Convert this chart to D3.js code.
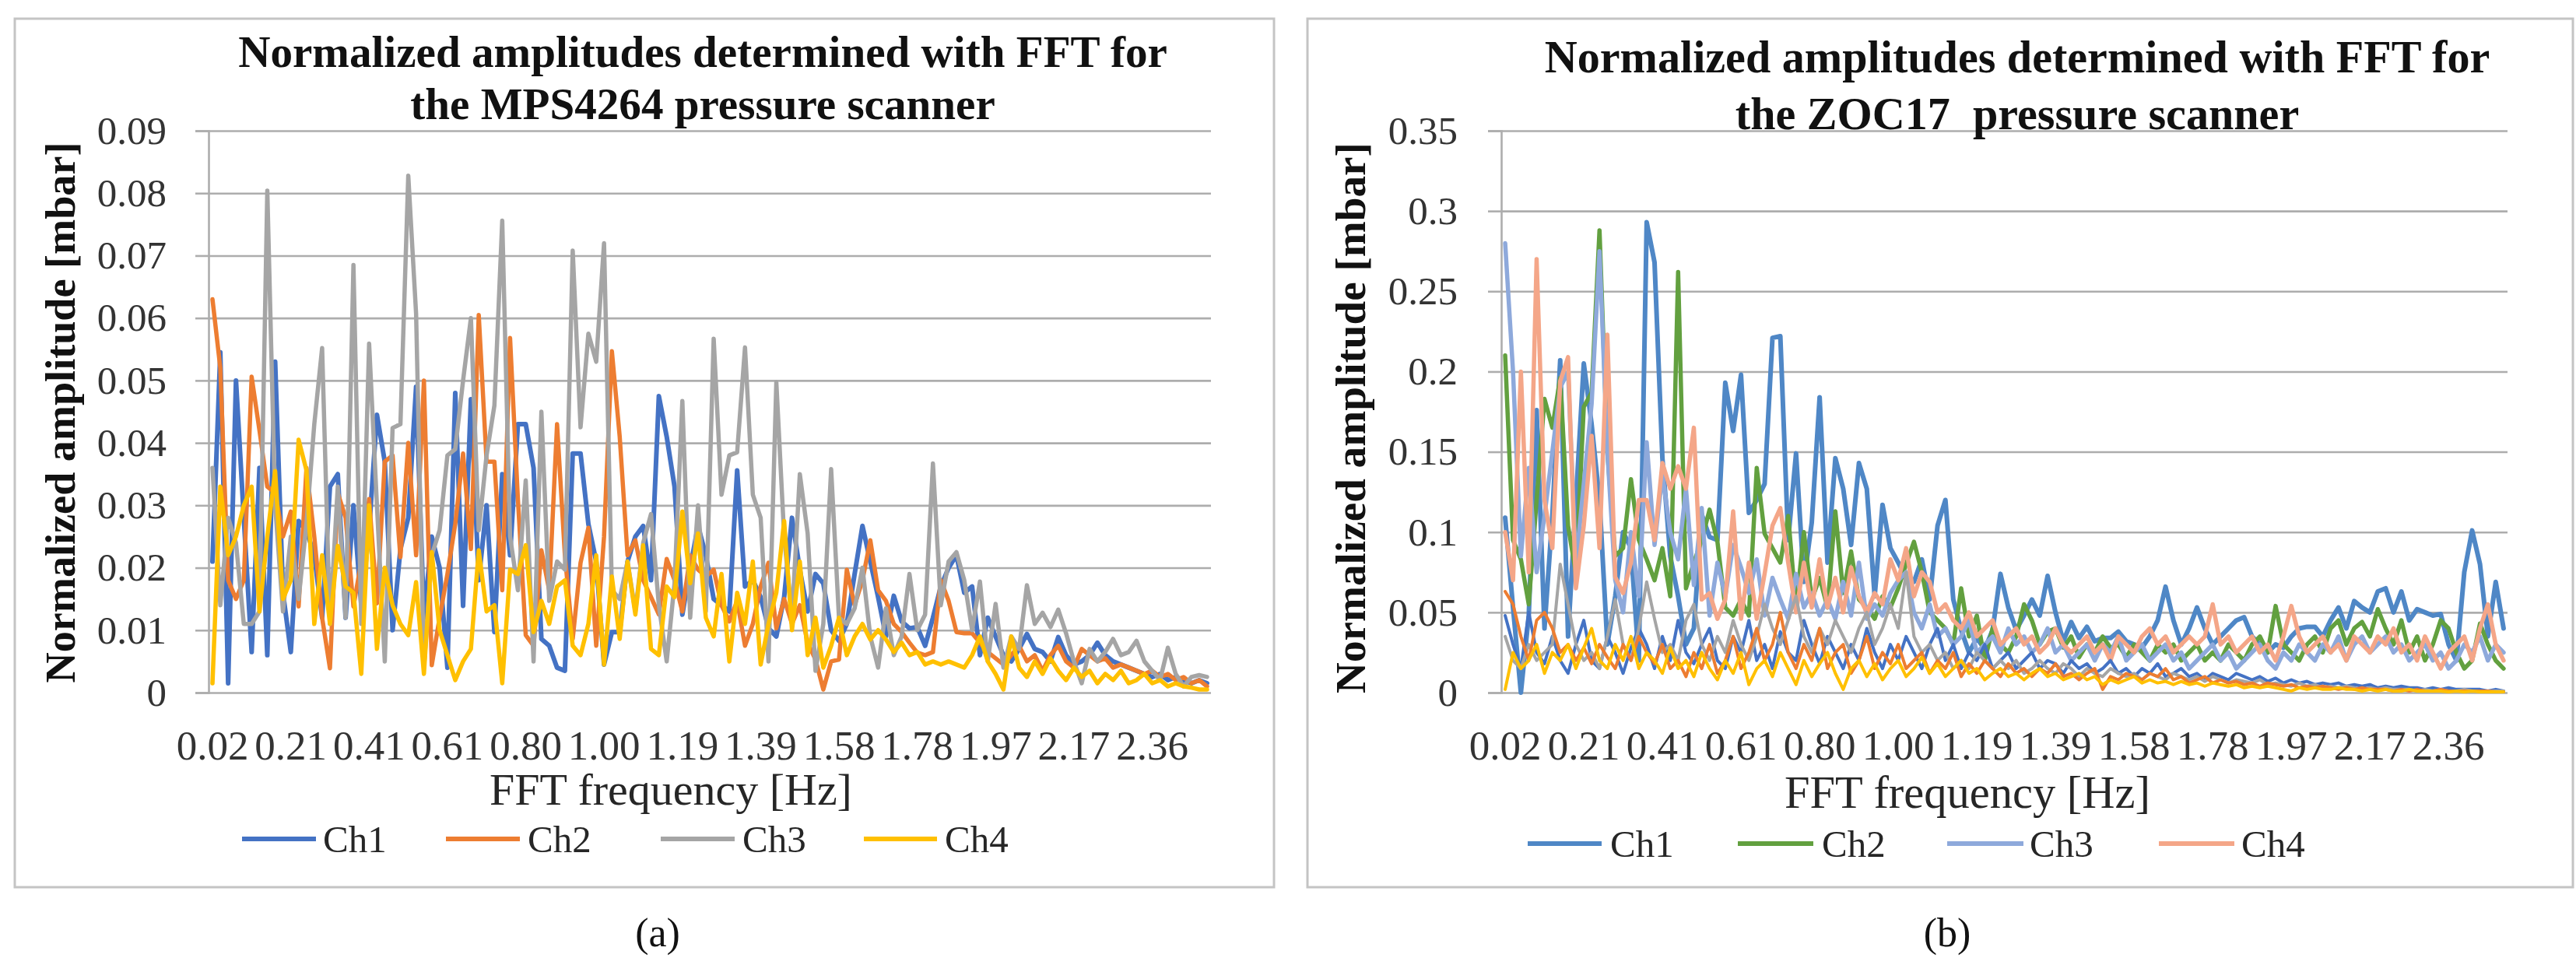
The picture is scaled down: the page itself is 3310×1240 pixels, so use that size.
<!DOCTYPE html>
<html><head><meta charset="utf-8">
<script src="https://cdn.jsdelivr.net/npm/d3@7"></script>
<style>body{margin:0;background:#fff}svg{display:block}</style>
</head><body>
<svg id="c" width="3310" height="1240"></svg>
<script>
// ---------- DATA ----------
const xTickLabels = ["0.02","0.21","0.41","0.61","0.80","1.00","1.19","1.39","1.58","1.78","1.97","2.17","2.36"];
const pointCount = 128;
const leftYTicks = [0,0.01,0.02,0.03,0.04,0.05,0.06,0.07,0.08,0.09];
const leftYLabels = ["0","0.01","0.02","0.03","0.04","0.05","0.06","0.07","0.08","0.09"];
const rightYTicks = [0,0.05,0.1,0.15,0.2,0.25,0.3,0.35];
const rightYLabels = ["0","0.05","0.1","0.15","0.2","0.25","0.3","0.35"];
const seriesNames = ["Ch1","Ch2","Ch3","Ch4"];

const mpsCh1 = [0.021,0.0545,0.0015,0.050,0.028,0.0065,0.036,0.006,0.053,0.016,
 0.0065,0.0275,0.026,0.022,0.012,0.033,0.035,0.012,0.030,0.014,
 0.026,0.0445,0.037,0.010,0.023,0.028,0.049,0.012,0.025,0.020,
 0.004,0.048,0.0139,0.047,0.018,0.030,0.0097,0.035,0.022,0.043,
 0.043,0.036,0.0086,0.0075,0.004,0.0035,0.0383,0.0383,0.027,0.021,
 0.0045,0.0097,0.0097,0.021,0.025,0.0267,0.018,0.0475,0.041,0.033,
 0.0125,0.02,0.0267,0.022,0.015,0.014,0.013,0.0356,0.017,0.018,
 0.0153,0.0103,0.009,0.0153,0.028,0.0197,0.013,0.019,0.0175,0.01,
 0.0083,0.011,0.019,0.0267,0.021,0.0153,0.009,0.0155,0.0114,0.0103,
 0.0105,0.0075,0.012,0.017,0.02,0.022,0.016,0.017,0.006,0.012,
 0.009,0.006,0.005,0.007,0.0094,0.007,0.0065,0.005,0.0089,0.006,
 0.0045,0.005,0.006,0.008,0.006,0.005,0.0045,0.004,0.0035,0.003,
 0.0025,0.003,0.002,0.0025,0.002,0.0015,0.002,0.0015];
const mpsCh2 = [0.063,0.052,0.018,0.015,0.018,0.0506,0.042,0.033,0.032,0.025,
 0.029,0.0138,0.036,0.025,0.012,0.0039,0.032,0.028,0.0138,0.021,
 0.031,0.0143,0.037,0.038,0.0217,0.040,0.022,0.050,0.0044,0.012,
 0.019,0.027,0.0383,0.023,0.0605,0.037,0.037,0.0164,0.0568,0.031,
 0.0092,0.0075,0.0228,0.0164,0.043,0.022,0.0086,0.0208,0.0264,0.0075,
 0.025,0.0547,0.041,0.022,0.0244,0.018,0.0153,0.0125,0.0214,0.018,
 0.013,0.022,0.0197,0.0186,0.0197,0.014,0.0114,0.0147,0.0075,0.011,
 0.017,0.0208,0.0103,0.015,0.011,0.014,0.008,0.0053,0.0005,0.005,
 0.0053,0.0197,0.014,0.018,0.0244,0.0164,0.0147,0.011,0.0097,0.008,
 0.0064,0.006,0.0065,0.018,0.0147,0.0097,0.0095,0.0095,0.008,0.0065,
 0.0055,0.0045,0.006,0.0075,0.005,0.006,0.0035,0.006,0.0075,0.005,
 0.004,0.007,0.006,0.005,0.0055,0.004,0.0045,0.004,0.0035,0.003,
 0.0035,0.0025,0.003,0.002,0.0025,0.0015,0.002,0.001];
const mpsCh3 = [0.036,0.014,0.028,0.024,0.011,0.011,0.013,0.0804,0.030,0.013,
 0.025,0.015,0.027,0.043,0.0552,0.011,0.033,0.012,0.0685,0.011,
 0.0559,0.030,0.005,0.0424,0.043,0.0828,0.0607,0.004,0.022,0.026,
 0.038,0.039,0.050,0.060,0.026,0.038,0.046,0.0756,0.025,0.0164,
 0.034,0.005,0.045,0.0147,0.021,0.0197,0.0708,0.0425,0.0575,0.053,
 0.072,0.0164,0.015,0.021,0.013,0.024,0.0286,0.014,0.005,0.0175,
 0.0467,0.012,0.03,0.013,0.0567,0.0317,0.038,0.0385,0.0553,0.0317,
 0.028,0.005,0.0497,0.025,0.012,0.035,0.0255,0.0035,0.011,0.0358,
 0.012,0.011,0.0135,0.02,0.009,0.004,0.0135,0.006,0.009,0.019,
 0.010,0.0125,0.0367,0.014,0.021,0.0225,0.018,0.010,0.0178,0.005,
 0.0142,0.004,0.009,0.007,0.0172,0.011,0.0128,0.0105,0.0133,0.0095,
 0.005,0.0015,0.007,0.005,0.0065,0.0086,0.006,0.0065,0.0083,0.005,
 0.0035,0.002,0.0072,0.003,0.001,0.0025,0.0028,0.0025];
const mpsCh4 = [0.0015,0.033,0.022,0.025,0.030,0.033,0.013,0.025,0.0355,0.015,
 0.018,0.0405,0.0356,0.011,0.022,0.011,0.0235,0.017,0.016,0.003,
 0.030,0.007,0.020,0.014,0.011,0.0092,0.0177,0.003,0.0225,0.010,
 0.006,0.002,0.005,0.007,0.0228,0.013,0.014,0.0015,0.0197,0.019,
 0.0236,0.0097,0.0147,0.011,0.017,0.018,0.0075,0.006,0.011,0.022,
 0.0045,0.0186,0.0086,0.021,0.0125,0.0236,0.007,0.006,0.017,0.0153,
 0.029,0.0175,0.0255,0.012,0.009,0.019,0.005,0.016,0.011,0.021,
 0.0045,0.011,0.016,0.0275,0.01,0.021,0.006,0.012,0.004,0.0075,
 0.012,0.006,0.009,0.011,0.0085,0.01,0.0085,0.0065,0.008,0.006,
 0.0065,0.0045,0.005,0.0045,0.005,0.0045,0.004,0.006,0.009,0.005,
 0.003,0.0005,0.009,0.004,0.0025,0.005,0.003,0.0055,0.0035,0.002,
 0.004,0.0025,0.0035,0.0015,0.003,0.002,0.0035,0.0015,0.002,0.003,
 0.0015,0.002,0.001,0.0015,0.001,0.0008,0.0005,0.0005];

const zocCh1 = [0.109,0.053,0.0,0.048,0.176,0.04,0.11,0.207,0.035,0.12,
 0.205,0.167,0.12,0.03,0.06,0.1,0.09,0.02,0.293,0.268,
 0.146,0.085,0.06,0.03,0.04,0.111,0.097,0.095,0.193,0.163,
 0.198,0.112,0.12,0.13,0.221,0.222,0.095,0.149,0.069,0.106,
 0.184,0.081,0.146,0.127,0.092,0.143,0.127,0.06,0.117,0.09,
 0.081,0.0715,0.069,0.083,0.058,0.104,0.12,0.058,0.039,0.025,
 0.034,0.027,0.039,0.074,0.053,0.039,0.048,0.058,0.048,0.0727,
 0.05,0.032,0.044,0.034,0.041,0.032,0.034,0.034,0.038,0.032,
 0.03,0.028,0.035,0.045,0.066,0.045,0.03,0.04,0.053,0.04,
 0.03,0.035,0.04,0.045,0.047,0.035,0.03,0.025,0.03,0.028,
 0.035,0.04,0.041,0.041,0.035,0.045,0.053,0.04,0.057,0.053,
 0.05,0.063,0.065,0.05,0.063,0.045,0.052,0.05,0.048,0.049,
 0.03,0.02,0.075,0.101,0.08,0.035,0.069,0.04];
const zocCh2 = [0.21,0.095,0.083,0.055,0.12,0.183,0.165,0.196,0.104,0.074,
 0.178,0.187,0.288,0.15,0.085,0.09,0.133,0.095,0.083,0.07,
 0.09,0.06,0.262,0.065,0.081,0.095,0.114,0.094,0.053,0.048,
 0.058,0.048,0.14,0.099,0.09,0.081,0.11,0.053,0.1,0.058,
 0.0715,0.053,0.113,0.062,0.088,0.058,0.053,0.046,0.06,0.053,
 0.065,0.08,0.094,0.075,0.05,0.045,0.04,0.03,0.065,0.035,
 0.048,0.02,0.04,0.03,0.025,0.035,0.055,0.045,0.03,0.038,
 0.04,0.028,0.035,0.022,0.03,0.025,0.035,0.028,0.03,0.022,
 0.03,0.025,0.02,0.03,0.025,0.03,0.02,0.025,0.03,0.02,
 0.025,0.02,0.03,0.025,0.02,0.03,0.035,0.025,0.054,0.03,
 0.025,0.02,0.03,0.035,0.025,0.04,0.045,0.03,0.04,0.044,
 0.035,0.052,0.04,0.03,0.045,0.025,0.035,0.02,0.03,0.045,
 0.04,0.025,0.015,0.02,0.043,0.03,0.02,0.015];
const zocCh3 = [0.28,0.2,0.085,0.14,0.075,0.11,0.15,0.19,0.2,0.08,
 0.13,0.18,0.275,0.15,0.07,0.05,0.1,0.06,0.156,0.092,
 0.136,0.1,0.083,0.127,0.067,0.115,0.048,0.081,0.06,0.092,
 0.078,0.062,0.083,0.048,0.0715,0.058,0.046,0.074,0.053,0.062,
 0.048,0.058,0.046,0.069,0.048,0.081,0.046,0.055,0.048,0.062,
 0.07,0.075,0.05,0.04,0.055,0.035,0.04,0.03,0.035,0.045,
 0.025,0.03,0.035,0.025,0.04,0.03,0.035,0.025,0.03,0.04,
 0.025,0.03,0.02,0.025,0.03,0.02,0.03,0.025,0.035,0.02,
 0.025,0.03,0.02,0.025,0.03,0.02,0.025,0.015,0.02,0.025,
 0.03,0.02,0.025,0.015,0.02,0.025,0.03,0.02,0.015,0.025,
 0.02,0.03,0.025,0.02,0.03,0.025,0.035,0.02,0.03,0.035,
 0.025,0.03,0.035,0.025,0.03,0.02,0.025,0.03,0.02,0.025,
 0.015,0.02,0.03,0.025,0.035,0.02,0.03,0.025];
const zocCh4 = [0.1,0.07,0.2,0.075,0.27,0.12,0.09,0.194,0.209,0.065,
 0.104,0.16,0.09,0.223,0.072,0.062,0.081,0.12,0.12,0.095,
 0.143,0.127,0.141,0.127,0.165,0.058,0.062,0.046,0.058,0.113,
 0.046,0.081,0.046,0.074,0.104,0.115,0.081,0.05,0.081,0.053,
 0.083,0.053,0.0715,0.05,0.078,0.06,0.05,0.062,0.055,0.083,
 0.07,0.09,0.06,0.075,0.069,0.05,0.055,0.045,0.04,0.05,
 0.035,0.04,0.045,0.03,0.035,0.04,0.03,0.035,0.025,0.03,
 0.04,0.03,0.025,0.03,0.035,0.025,0.03,0.02,0.035,0.03,
 0.025,0.035,0.04,0.03,0.035,0.025,0.03,0.035,0.03,0.035,
 0.055,0.03,0.035,0.025,0.03,0.035,0.025,0.03,0.02,0.035,
 0.054,0.035,0.025,0.03,0.035,0.025,0.03,0.02,0.035,0.03,
 0.025,0.035,0.03,0.04,0.025,0.03,0.02,0.035,0.025,0.015,
 0.025,0.03,0.035,0.02,0.04,0.055,0.03,0.02];
// further low-amplitude traces drawn in the ZOC17 plot without legend entries
const zocExtraA = [0.048,0.03,0.015,0.05,0.025,0.018,0.035,0.02,0.012,0.03,
 0.045,0.02,0.015,0.035,0.025,0.012,0.028,0.04,0.03,0.015,
 0.035,0.02,0.045,0.025,0.018,0.03,0.04,0.02,0.015,0.035,
 0.025,0.045,0.02,0.03,0.015,0.038,0.025,0.02,0.045,0.03,
 0.018,0.035,0.025,0.015,0.03,0.02,0.04,0.025,0.015,0.03,
 0.02,0.035,0.025,0.015,0.03,0.04,0.02,0.03,0.015,0.025,
 0.02,0.03,0.015,0.02,0.025,0.015,0.02,0.025,0.015,0.02,
 0.018,0.012,0.02,0.015,0.018,0.012,0.015,0.02,0.012,0.015,
 0.01,0.015,0.012,0.018,0.01,0.012,0.015,0.01,0.012,0.008,
 0.012,0.01,0.008,0.012,0.01,0.008,0.01,0.007,0.009,0.006,
 0.008,0.006,0.007,0.005,0.006,0.005,0.006,0.004,0.005,0.004,
 0.005,0.003,0.004,0.003,0.004,0.003,0.003,0.002,0.003,0.002,
 0.003,0.002,0.002,0.002,0.002,0.001,0.002,0.001];
const zocExtraB = [0.063,0.055,0.035,0.02,0.045,0.05,0.04,0.025,0.03,0.02,
 0.028,0.018,0.03,0.022,0.015,0.03,0.02,0.035,0.025,0.018,
 0.03,0.015,0.02,0.01,0.025,0.015,0.03,0.012,0.02,0.035,
 0.015,0.025,0.04,0.02,0.03,0.05,0.025,0.015,0.03,0.02,
 0.04,0.015,0.025,0.03,0.012,0.02,0.035,0.015,0.025,0.018,
 0.03,0.015,0.02,0.025,0.012,0.02,0.015,0.025,0.01,0.018,
 0.012,0.02,0.015,0.01,0.018,0.012,0.015,0.01,0.015,0.012,
 0.018,0.01,0.012,0.008,0.012,0.015,0.002,0.01,0.008,0.012,
 0.01,0.008,0.012,0.01,0.015,0.008,0.01,0.006,0.008,0.01,
 0.006,0.008,0.006,0.007,0.005,0.006,0.004,0.006,0.005,0.004,
 0.005,0.003,0.004,0.003,0.004,0.003,0.002,0.003,0.002,0.003,
 0.002,0.002,0.002,0.001,0.002,0.001,0.002,0.001,0.001,0.002,
 0.001,0.001,0.001,0.001,0.001,0.001,0.0005,0.0005];
const zocExtraC = [0.035,0.02,0.015,0.03,0.02,0.025,0.03,0.08,0.055,0.03,
 0.02,0.025,0.015,0.035,0.058,0.03,0.02,0.04,0.069,0.046,
 0.025,0.03,0.02,0.045,0.055,0.03,0.02,0.035,0.025,0.045,
 0.03,0.02,0.035,0.055,0.04,0.03,0.045,0.06,0.035,0.025,
 0.04,0.03,0.045,0.035,0.025,0.04,0.05,0.03,0.04,0.055,
 0.04,0.075,0.035,0.025,0.03,0.02,0.025,0.015,0.02,0.015,
 0.025,0.02,0.015,0.02,0.015,0.02,0.012,0.015,0.02,0.015,
 0.012,0.018,0.015,0.01,0.015,0.012,0.01,0.015,0.012,0.01,
 0.012,0.008,0.012,0.01,0.008,0.012,0.01,0.008,0.01,0.007,
 0.01,0.008,0.006,0.008,0.007,0.006,0.008,0.005,0.006,0.005,
 0.004,0.006,0.004,0.005,0.003,0.004,0.003,0.004,0.003,0.002,
 0.003,0.002,0.003,0.002,0.002,0.002,0.001,0.002,0.001,0.002,
 0.001,0.001,0.002,0.001,0.001,0.001,0.001,0.001];
const zocExtraD = [0.002,0.025,0.015,0.02,0.03,0.012,0.025,0.02,0.03,0.015,
 0.028,0.04,0.02,0.015,0.03,0.02,0.035,0.015,0.025,0.02,
 0.012,0.028,0.015,0.02,0.01,0.025,0.015,0.008,0.02,0.012,
 0.025,0.005,0.015,0.02,0.01,0.025,0.015,0.005,0.02,0.01,
 0.018,0.025,0.012,0.002,0.015,0.02,0.01,0.018,0.008,0.015,
 0.02,0.01,0.015,0.022,0.012,0.018,0.01,0.015,0.02,0.012,
 0.015,0.008,0.012,0.015,0.01,0.012,0.008,0.012,0.015,0.01,
 0.012,0.008,0.01,0.012,0.008,0.01,0.005,0.008,0.006,0.008,
 0.01,0.006,0.008,0.006,0.007,0.005,0.007,0.005,0.006,0.004,
 0.006,0.005,0.004,0.005,0.003,0.004,0.003,0.004,0.003,0.002,
 0.001,0.003,0.002,0.003,0.002,0.002,0.003,0.002,0.002,0.001,
 0.002,0.001,0.002,0.001,0.001,0.002,0.001,0.001,0.001,0.001,
 0.0005,0.001,0.0005,0.001,0.0005,0.0005,0.0005,0.0005];

// ---------- DRAWING ----------
const svg = d3.select("#c");
const FONT = "'Liberation Serif','Times New Roman',serif";
const GRID = "#ADADAD";

function fit(sel, target){
  const w = sel.node().getComputedTextLength();
  const fs = parseFloat(sel.attr("font-size"));
  sel.attr("font-size", fs*target/w);
  return fs*target/w;
}

function panel(cfg){
  const g = svg.append("g");
  g.append("rect").attr("x",cfg.frame[0]).attr("y",cfg.frame[1])
    .attr("width",cfg.frame[2]-cfg.frame[0]).attr("height",cfg.frame[3]-cfg.frame[1])
    .attr("fill","none").attr("stroke","#C4C4C4").attr("stroke-width",3);

  const x = d3.scaleBand().domain(d3.range(pointCount)).range([cfg.x0,cfg.x1]);
  const y = d3.scaleLinear().domain([0,cfg.yMax]).range([890,168]);
  const W = cfg.x1-cfg.x0;

  const grid = g.append("g").attr("transform",`translate(${cfg.x0},0)`)
    .call(d3.axisLeft(y).tickValues(cfg.yTicks).tickSize(-W).tickFormat(""));
  grid.select(".domain").remove();
  grid.selectAll("line").attr("stroke",GRID).attr("stroke-width",2.6);

  const ya = g.append("g").attr("transform",`translate(${cfg.x0},0)`)
    .call(d3.axisLeft(y).tickValues(cfg.yTicks).tickSize(17).tickPadding(cfg.x0-17-cfg.labelRight)
      .tickFormat((d,i)=>cfg.yLabels[i]));
  ya.select(".domain").attr("stroke",GRID).attr("stroke-width",2.6);
  ya.selectAll("line").attr("stroke",GRID).attr("stroke-width",2.6);
  ya.selectAll("text").attr("font-family",FONT).attr("font-size",51).attr("fill","#333");

  const xa = g.append("g").attr("transform",`translate(0,890)`)
    .call(d3.axisBottom(x).tickValues(d3.range(0,pointCount,10)).tickSize(0).tickPadding(48)
      .tickFormat(i=>xTickLabels[i/10]));
  xa.select(".domain").remove();
  xa.selectAll("text").attr("font-family",FONT).attr("font-size",53).attr("fill","#333");

  const line = d3.line().x((d,i)=>x(i)+x.bandwidth()/2).y(d=>y(d));
  cfg.series.forEach(s=>{
    g.append("path").datum(s.values).attr("d",line).attr("fill","none")
      .attr("stroke",s.color).attr("stroke-width",s.width)
      .attr("stroke-linejoin","round").attr("stroke-linecap","round");
  });

  const t1 = g.append("text").attr("x",cfg.titleX).attr("y",cfg.titleY[0])
    .attr("text-anchor","middle").attr("font-family",FONT).attr("font-weight","bold")
    .attr("font-size",48).attr("fill","#111").style("white-space","pre").text(cfg.title[0]);
  const fs = fit(t1,cfg.titleW);
  g.append("text").attr("x",cfg.titleX).attr("y",cfg.titleY[1])
    .attr("text-anchor","middle").attr("font-family",FONT).attr("font-weight","bold")
    .attr("font-size",fs).attr("fill","#111").style("white-space","pre").text(cfg.title[1]);

  const yt = g.append("text").attr("transform",`translate(${cfg.yTitleX},${cfg.yTitleY}) rotate(-90)`)
    .attr("text-anchor","middle").attr("dominant-baseline","central")
    .attr("font-family",FONT).attr("font-weight","bold").attr("font-size",50).attr("fill","#111")
    .text("Normalized amplitude [mbar]");
  fit(yt,cfg.yTitleLen);
  const xt = g.append("text").attr("x",cfg.xTitleX).attr("y",cfg.xTitleY)
    .attr("text-anchor","middle").attr("dominant-baseline","central")
    .attr("font-family",FONT).attr("font-size",50).attr("fill","#262626")
    .text("FFT frequency [Hz]");
  fit(xt,cfg.xTitleW);

  cfg.legend.forEach((L,i)=>{
    const s = cfg.series[i];
    g.append("line").attr("x1",L[0]).attr("x2",L[1]).attr("y1",cfg.legendY).attr("y2",cfg.legendY)
      .attr("stroke",s.color).attr("stroke-width",6);
    g.append("text").attr("x",L[2]).attr("y",cfg.legendY).attr("dominant-baseline","central")
      .attr("font-family",FONT).attr("font-size",49).attr("fill","#262626").text(seriesNames[i]);
  });

  svg.append("text").attr("x",cfg.capX).attr("y",1198).attr("text-anchor","middle")
    .attr("dominant-baseline","central").attr("font-family",FONT).attr("font-size",52)
    .attr("fill","#111").text(cfg.caption);
}

panel({
  frame:[19,24,1637,1140], x0:268, x1:1556, yMax:0.09,
  yTicks:leftYTicks, yLabels:leftYLabels, labelRight:214,
  series:[
    {values:mpsCh1,color:"#4472C4",width:6},
    {values:mpsCh2,color:"#ED7D31",width:5.5},
    {values:mpsCh3,color:"#A5A5A5",width:5.5},
    {values:mpsCh4,color:"#FFC000",width:5.5}
  ],
  title:["Normalized amplitudes determined with FFT for","the MPS4264 pressure scanner"],
  titleX:903, titleY:[86,153], titleW:1194,
  yTitleX:78, yTitleY:530, yTitleLen:695,
  xTitleX:862, xTitleY:1014, xTitleW:466,
  legendY:1078,
  legend:[[311,406,415],[573,668,678],[849,944,954],[1110,1204,1214]],
  capX:845, caption:"(a)"
});

panel({
  frame:[1680,24,3306,1140], x0:1929, x1:3222, yMax:0.35,
  yTicks:rightYTicks, yLabels:rightYLabels, labelRight:1873,
  series:[
    {values:zocCh1,color:"#4F87C6",width:6},
    {values:zocCh2,color:"#62A03F",width:5.5},
    {values:zocCh3,color:"#8EA9DB",width:5.5},
    {values:zocCh4,color:"#F4A688",width:5.5},
    {values:zocExtraA,color:"#4472C4",width:4},
    {values:zocExtraC,color:"#A5A5A5",width:4},
    {values:zocExtraB,color:"#ED7D31",width:4},
    {values:zocExtraD,color:"#FFC000",width:4}
  ],
  title:["Normalized amplitudes determined with FFT for","the ZOC17  pressure scanner"],
  titleX:2592, titleY:[93,166], titleW:1215,
  yTitleX:1735, yTitleY:537, yTitleLen:708,
  xTitleX:2528, xTitleY:1018, xTitleW:470,
  legendY:1084,
  legend:[[1963,2058,2069],[2233,2330,2341],[2502,2600,2608],[2774,2871,2880]],
  capX:2502, caption:"(b)"
});
</script>
</body></html>
